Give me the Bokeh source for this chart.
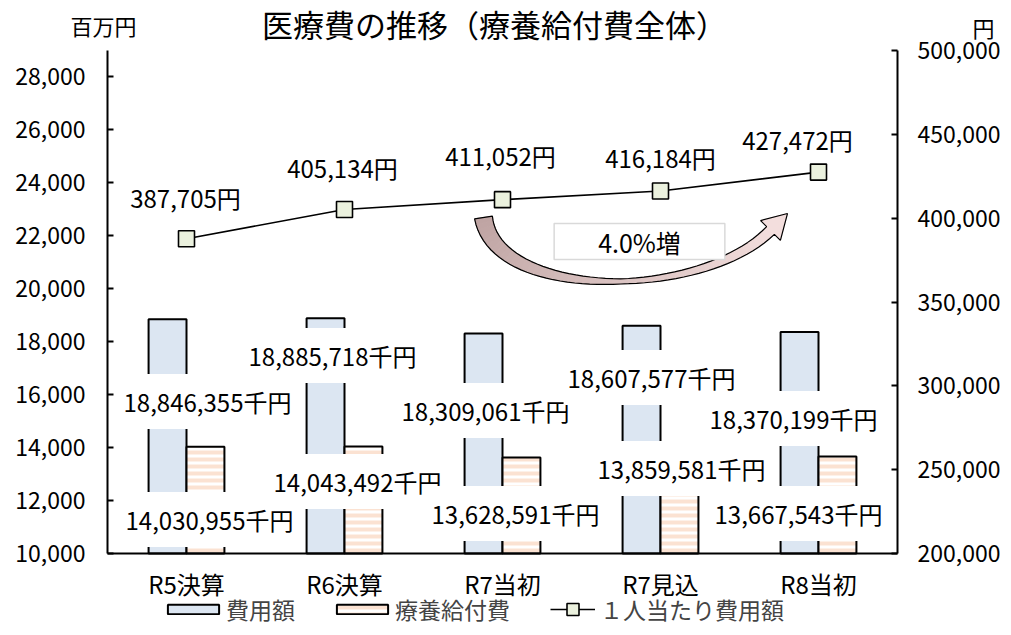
from bokeh.plotting import figure
from bokeh.models import (Range1d, LinearAxis, FixedTicker, NumeralTickFormatter,
                          ColumnDataSource, Label, Legend, LegendItem)
from bokeh.embed import file_html
from bokeh.resources import INLINE

# ---------------- data ----------------
categories = ["R5決算", "R6決算", "R7当初", "R7見込", "R8当初"]
cost_thousand = [18846355, 18885718, 18309061, 18607577, 18370199]      # 費用額 (千円)
benefit_thousand = [14030955, 14043492, 13628591, 13859581, 13667543]   # 療養給付費 (千円)
per_capita = [387705, 405134, 411052, 416184, 427472]                   # 1人当たり費用額 (円)
left_ticks = [10000, 12000, 14000, 16000, 18000, 20000, 22000, 24000, 26000, 28000]
right_ticks = [200000, 250000, 300000, 350000, 400000, 450000, 500000]
growth_text = "4.0%増"
title_text = "医療費の推移（療養給付費全体）"

# ---------------- layout (not data) ----------------
W, H = 1003, 627
FL, FR, FT, FB = 107, 897, 50, 553          # where the axes box sits on the canvas
Y_LEFT = (10000, 29000)
Y_RIGHT = (200000, 500000)
NCAT = len(categories)
PX_CAT = (FR - FL) / NCAT
UPP_L = (Y_LEFT[1] - Y_LEFT[0]) / (FB - FT)
UPP_R = (Y_RIGHT[1] - Y_RIGHT[0]) / (FB - FT)
FONT = "'Noto Sans CJK JP', sans-serif"

cost_lbl_dx = [21, -12, -17, -9, -25]
cost_lbl_y = [15740, 17480, 15400, 16650, 15100]
ben_lbl_dx = [23, 13, 13, 21, -20]
ben_lbl_y = [11285, 12720, 11510, 13210, 11510]
pc_lbl_dx = [-1, -2, -2, 0, -21]
pc_lbl_dy = [41, 42, 44, 34, 33]
BAR_W = 0.24

xc = [i + 0.5 for i in range(NCAT)]
src = ColumnDataSource(dict(
    xc=xc,
    xb=[x - BAR_W / 2 for x in xc],
    xo=[x + BAR_W / 2 for x in xc],
    cost_m=[v / 1000 for v in cost_thousand],
    ben_m=[v / 1000 for v in benefit_thousand],
    per=per_capita,
))

x_range = Range1d(-FL / PX_CAT, (W - FL) / PX_CAT)
y_range = Range1d(Y_LEFT[0] - (H - FB) * UPP_L, Y_LEFT[1] + FT * UPP_L)
p = figure(width=W, height=H, x_range=x_range, y_range=y_range,
           x_axis_location=None, y_axis_location=None,
           output_backend="svg", toolbar_location=None,
           min_border=0)
p.extra_y_ranges = {"right": Range1d(Y_RIGHT[0] - (H - FB) * UPP_R, Y_RIGHT[1] + FT * UPP_R)}
p.outline_line_color = None
p.background_fill_color = "white"
p.border_fill_color = "white"
for g in p.grid:
    g.visible = False

blue = p.vbar(x="xb", top="cost_m", bottom=Y_LEFT[0], width=BAR_W,
              fill_color="#DCE6F2", line_color="black", line_width=2, source=src)
orange = p.vbar(x="xo", top="ben_m", bottom=Y_LEFT[0], width=BAR_W,
                fill_color="white", hatch_pattern="horizontal_line",
                hatch_color="#FBE2D2", hatch_scale=7, hatch_weight=4,
                line_color="black", line_width=2, source=src)
line_r = p.line(x="xc", y="per", y_range_name="right", line_color="black",
                line_width=1.6, source=src)
mark_r = p.scatter(x="xc", y="per", y_range_name="right", marker="square", size=16,
                   fill_color="#EBF1DE", line_color="black", line_width=1.6, source=src)

# ---------------- curved arrow (decoration) ----------------
def px2x(px):
    return (px - FL) / PX_CAT

def py2y(py):
    return Y_LEFT[0] + (FB - py) * UPP_L

P0, C1, C2, P3 = (483, 217), (495, 300), (700, 300), (770, 230)

def bez(t):
    a = (1 - t) ** 3; b = 3 * (1 - t) ** 2 * t; c = 3 * (1 - t) * t ** 2; d = t ** 3
    return (a * P0[0] + b * C1[0] + c * C2[0] + d * P3[0],
            a * P0[1] + b * C1[1] + c * C2[1] + d * P3[1])

def dbez(t):
    dx = 3 * (1 - t) ** 2 * (C1[0] - P0[0]) + 6 * (1 - t) * t * (C2[0] - C1[0]) + 3 * t ** 2 * (P3[0] - C2[0])
    dy = 3 * (1 - t) ** 2 * (C1[1] - P0[1]) + 6 * (1 - t) * t * (C2[1] - C1[1]) + 3 * t ** 2 * (P3[1] - C2[1])
    L = (dx * dx + dy * dy) ** 0.5
    return dx / L, dy / L

def width(t):
    return 18 - 13 * t / 0.55 if t < 0.55 else 5 + 6 * (t - 0.55) / 0.45

N = 48
A, B = [], []
for i in range(N + 1):
    t = i / N
    cx, cy = bez(t)
    ux, uy = dbez(t)
    nx, ny = -uy, ux
    w = width(t) / 2
    A.append((cx + nx * w, cy + ny * w))
    B.append((cx - nx * w, cy - ny * w))

c0, c1 = (190, 163, 162), (243, 222, 221)
def col(t):
    return "#%02x%02x%02x" % tuple(int(round(c0[k] + (c1[k] - c0[k]) * t)) for k in range(3))

qx, qy, qc = [], [], []
for i in range(N):
    quad = [A[i], A[i + 1], B[i + 1], B[i]]
    qx.append([px2x(q[0]) for q in quad])
    qy.append([py2y(q[1]) for q in quad])
    qc.append(col((i + 0.5) / N))
ux, uy = dbez(1.0)
nx, ny = -uy, ux
hb1 = (P3[0] + nx * 14, P3[1] + ny * 14)
hb2 = (P3[0] - nx * 14, P3[1] - ny * 14)
tip = (P3[0] + ux * 24, P3[1] + uy * 24)
qx.append([px2x(q[0]) for q in (hb1, tip, hb2)])
qy.append([py2y(q[1]) for q in (hb1, tip, hb2)])
qc.append(col(1.0))
p.patches(qx, qy, fill_color=qc, line_color=qc, line_width=1)
outline = A + [hb1, tip, hb2] + B[::-1]
p.patch([px2x(q[0]) for q in outline], [py2y(q[1]) for q in outline],
        fill_color=None, line_color="black", line_width=1.2)

# ---------------- axes ----------------
xaxis = LinearAxis(fixed_location=Y_LEFT[0], bounds=(0, NCAT),
                   ticker=FixedTicker(ticks=xc),
                   major_label_overrides={x: c for x, c in zip(xc, categories)})
p.add_layout(xaxis, "below")
xaxis.axis_line_width = 2
xaxis.axis_line_color = "black"
xaxis.major_tick_line_color = None
xaxis.minor_tick_line_color = None
xaxis.major_label_standoff = 6
xaxis.major_label_text_font = FONT
xaxis.major_label_text_font_size = "24px"
xaxis.major_label_text_color = "black"

left = LinearAxis(fixed_location=0, bounds=Y_LEFT, ticker=FixedTicker(ticks=left_ticks),
                  formatter=NumeralTickFormatter(format="0,0"))
right = LinearAxis(y_range_name="right", fixed_location=NCAT, bounds=Y_RIGHT,
                   ticker=FixedTicker(ticks=right_ticks),
                   formatter=NumeralTickFormatter(format="0,0"))
p.add_layout(left, "left")
p.add_layout(right, "right")
for ax in (left, right):
    ax.axis_line_width = 2
    ax.axis_line_color = "black"
    ax.major_tick_in = 6
    ax.major_tick_out = 0
    ax.major_tick_line_width = 2
    ax.minor_tick_line_color = None
    ax.major_label_text_font = FONT
    ax.major_label_text_font_size = "23px"
    ax.major_label_text_color = "black"
left.major_label_standoff = 22
right.major_label_standoff = 20

# ---------------- labels ----------------
def add_label(x, y, text, dx=0, dy=0, size="24px", bg=None, pad=0, **kw):
    lab = Label(x=x, y=y, x_offset=dx, y_offset=dy, text=text, text_align="center",
                text_baseline="middle", text_font=FONT, text_font_size=size,
                text_color="black", **kw)
    if bg:
        lab.background_fill_color = bg
        lab.padding = pad          # (left, right, top, bottom)
    p.add_layout(lab)
    return lab

for i in range(NCAT):
    add_label(xc[i], cost_lbl_y[i], f"{cost_thousand[i]:,}千円", dx=cost_lbl_dx[i],
              bg="white", pad=(4, 4, 10, 10))
    add_label(xc[i], ben_lbl_y[i], f"{benefit_thousand[i]:,}千円", dx=ben_lbl_dx[i],
              bg="white", pad=(4, 4, 10, 10))
    add_label(xc[i], per_capita[i], f"{per_capita[i]:,}円", dx=pc_lbl_dx[i],
              dy=pc_lbl_dy[i], y_range_name="right")

add_label(px2x(639), py2y(241), growth_text, size="25px", bg="white",
          pad=(44, 44, 0, 0), border_line_color="#D9D9D9", border_line_width=1.5)

add_label(px2x(494), py2y(23), title_text, size="31px")
add_label(px2x(103), py2y(24), "百万円", size="22px")
add_label(px2x(983), py2y(26), "円", size="22px")

# ---------------- legend ----------------
LEG_Y = 1
bar_legend = Legend(items=[LegendItem(label="費用額", renderers=[blue]),
                           LegendItem(label="療養給付費", renderers=[orange])],
                    orientation="horizontal", location=(161, LEG_Y),
                    label_text_font=FONT, label_text_font_size="23px",
                    glyph_width=64, glyph_height=12, spacing=35, label_standoff=1,
                    padding=0, margin=0, border_line_alpha=0, background_fill_alpha=0)
line_legend = Legend(items=[LegendItem(label="１人当たり費用額", renderers=[line_r, mark_r])],
                     orientation="horizontal", location=(550, LEG_Y),
                     label_text_font=FONT, label_text_font_size="23px",
                     glyph_width=45, glyph_height=30, label_standoff=5,
                     padding=0, margin=0, border_line_alpha=0, background_fill_alpha=0)
p.add_layout(bar_legend, "center")
p.add_layout(line_legend, "center")

open("out.html", "w").write(file_html(p, INLINE))
